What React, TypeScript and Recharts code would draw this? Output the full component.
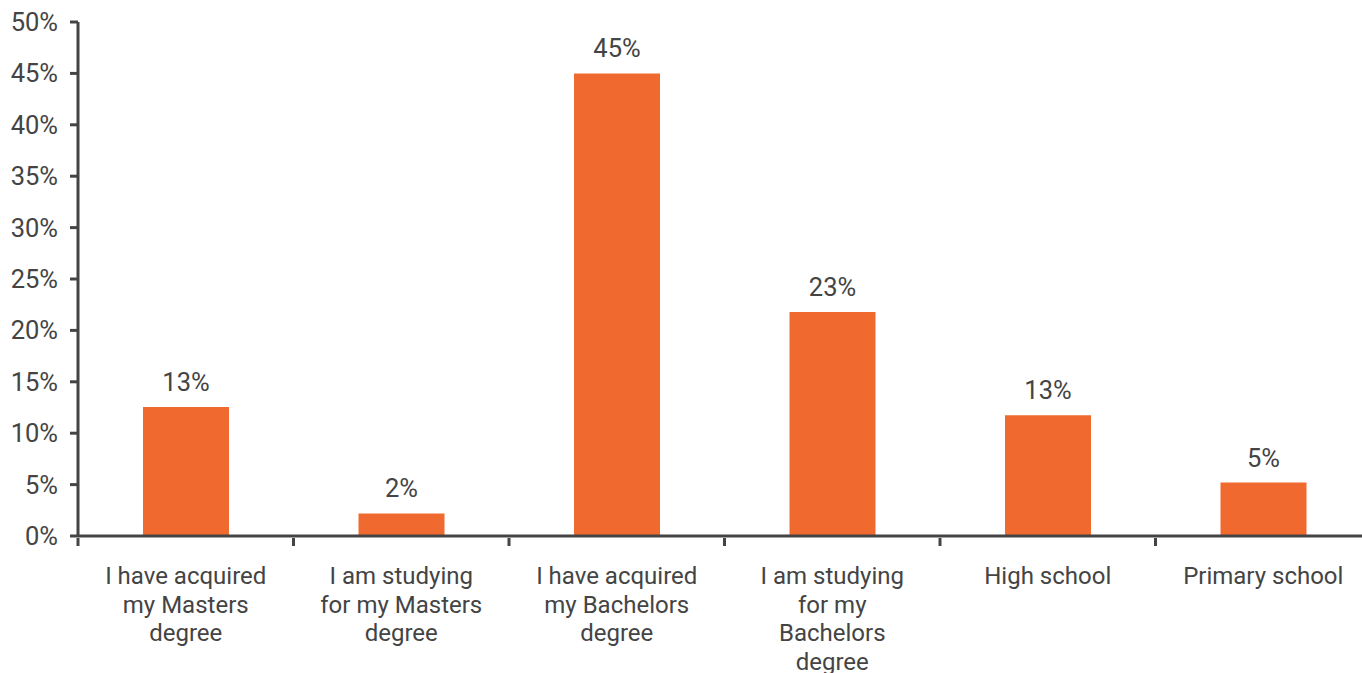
import React from "react";
import { BarChart, Bar, XAxis, YAxis, LabelList } from "recharts";

const categories: string[][] = [
  ["I have acquired", "my Masters", "degree"],
  ["I am studying", "for my Masters", "degree"],
  ["I have acquired", "my Bachelors", "degree"],
  ["I am studying", "for my", "Bachelors", "degree"],
  ["High school"],
  ["Primary school"],
];
const values = [12.55, 2.2, 45.0, 21.8, 11.75, 5.2];
const valueLabels = ["13%", "2%", "45%", "23%", "13%", "5%"];
const yTicks = [0, 5, 10, 15, 20, 25, 30, 35, 40, 45, 50];

const data = categories.map((c, i) => ({
  name: c.join(" "),
  idx: i,
  value: values[i],
  label: valueLabels[i],
}));

const CHART_W = 1380;
const CHART_H = 673;
const MARGIN = { top: 22, right: 9, bottom: 0, left: 0 };
const Y_W = 78;
const X_H = 137;
const PLOT_W = CHART_W - MARGIN.left - MARGIN.right - Y_W;
const BAND = PLOT_W / categories.length;
const TEXT = "#444444";
const FONT = "Roboto, 'Noto Sans', sans-serif";

const XTick = (props: any) => {
  const { x, y, payload, index } = props;
  const i0 = payload.index ?? index;
  const lines = categories[i0] || [String(payload.value)];
  const isLast = i0 === categories.length - 1;
  return (
    <g>
      <line x1={x - BAND / 2} x2={x - BAND / 2} y1={y - 8} y2={y} stroke={TEXT} strokeWidth={3} />
      {isLast && (
        <line x1={x + BAND / 2} x2={x + BAND / 2} y1={y - 8} y2={y} stroke={TEXT} strokeWidth={3} />
      )}
      <text x={x} y={y + 38} textAnchor="middle" fill={TEXT} fontSize={24} fontFamily={FONT}>
        {lines.map((l, i) => (
          <tspan key={i} x={x} dy={i === 0 ? 0 : 28.7}>
            {l}
          </tspan>
        ))}
      </text>
    </g>
  );
};

export default function App() {
  return (
    <div style={{ position: "absolute", left: 0, top: 0, width: 1362, height: 673, overflow: "hidden", background: "#fff" }}>
      <BarChart width={CHART_W} height={CHART_H} data={data} margin={MARGIN} barCategoryGap={0}>
        <YAxis
          type="number"
          domain={[0, 50]}
          ticks={yTicks}
          width={Y_W}
          tickFormatter={(v: number) => `${v}%`}
          axisLine={{ stroke: TEXT, strokeWidth: 3 }}
          tickLine={{ stroke: TEXT, strokeWidth: 3 }}
          tickSize={8}
          tickMargin={12}
          tick={{ fill: TEXT, fontSize: 25.5, fontFamily: FONT }}
          interval={0}
        />
        <XAxis
          dataKey="name"
          type="category"
          height={X_H}
          axisLine={{ stroke: TEXT, strokeWidth: 3 }}
          tickLine={false}
          tickSize={8}
          tick={<XTick />}
          interval={0}
        />
        <Bar dataKey="value" fill="#F06A30" barSize={86} isAnimationActive={false}>
          <LabelList dataKey="label" position="top" offset={16} fill={TEXT} fontSize={25.5} fontFamily={FONT} />
        </Bar>
      </BarChart>
    </div>
  );
}
